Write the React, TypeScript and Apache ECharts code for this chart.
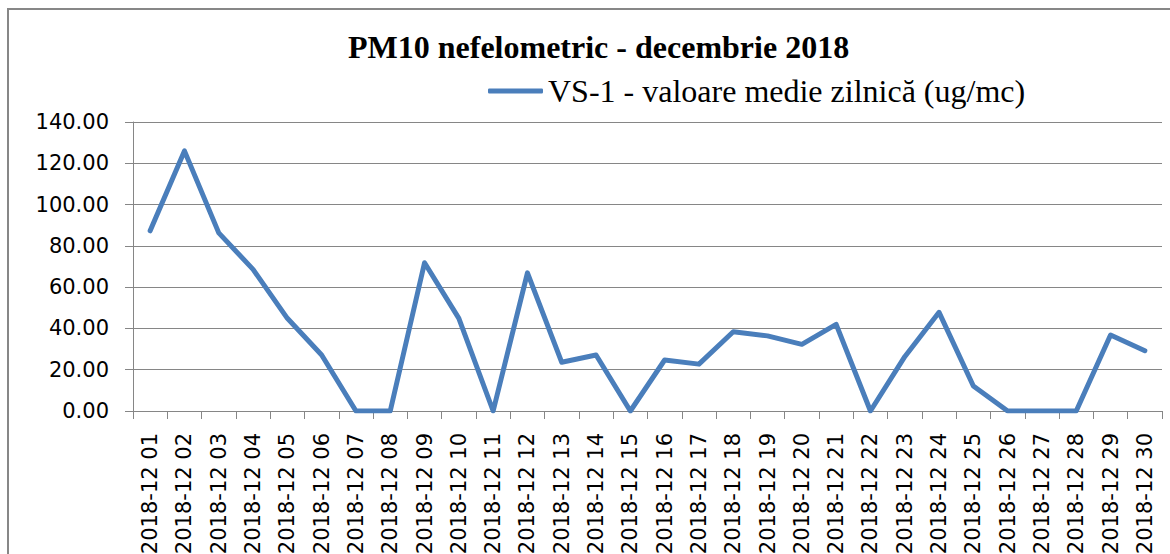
import React, { useEffect, useRef } from "react";
import * as echarts from "echarts";

const categories: string[] = [
  "2018-12 01", "2018-12 02", "2018-12 03", "2018-12 04", "2018-12 05",
  "2018-12 06", "2018-12 07", "2018-12 08", "2018-12 09", "2018-12 10",
  "2018-12 11", "2018-12 12", "2018-12 13", "2018-12 14", "2018-12 15",
  "2018-12 16", "2018-12 17", "2018-12 18", "2018-12 19", "2018-12 20",
  "2018-12 21", "2018-12 22", "2018-12 23", "2018-12 24", "2018-12 25",
  "2018-12 26", "2018-12 27", "2018-12 28", "2018-12 29", "2018-12 30",
];

const vs1Values: number[] = [
  87.3, 126.0, 86.3, 68.6, 44.9, 27.1, 0, 0, 71.8, 44.9,
  0, 66.9, 23.6, 27.1, 0, 24.7, 22.7, 38.4, 36.4, 32.3,
  42.0, 0, 26.3, 47.8, 12.1, 0, 0, 0, 36.8, 29.2,
];

const seriesName = "VS-1 - valoare medie zilnică (ug/mc)";
const chartTitle = "PM10 nefelometric - decembrie 2018";

export default function App() {
  const ref = useRef<HTMLDivElement>(null);

  useEffect(() => {
    if (!ref.current) return;
    const chart = echarts.init(ref.current, undefined, { renderer: "svg" });
    const gray = "#868686";
    chart.setOption({
      animation: false,
      backgroundColor: "#ffffff",
      title: {
        text: chartTitle,
        left: 348,
        top: 31,
        padding: 0,
        textStyle: {
          fontFamily: "Liberation Serif",
          fontWeight: "bold",
          fontSize: 32,
          color: "#000000",
        },
      },
      legend: {
        left: 488,
        top: 75,
        padding: 0,
        icon: "roundRect",
        itemWidth: 55,
        itemHeight: 5,
        textStyle: {
          fontFamily: "Liberation Serif",
          fontSize: 32,
          color: "#000000",
        },
        data: [seriesName],
      },
      graphic: [
        {
          type: "rect",
          shape: { x: 8, y: 9, width: 1200, height: 600 },
          style: { fill: "none", stroke: "#878787", lineWidth: 2 },
          silent: true,
        },
      ],
      grid: {
        left: 133,
        right: 8,
        top: 122,
        bottom: 143,
        containLabel: false,
        outerBoundsMode: "none",
      },
      xAxis: {
        type: "category",
        data: categories,
        boundaryGap: true,
        axisLine: { show: true, lineStyle: { color: gray, width: 1 } },
        axisTick: { show: true, length: 8, interval: 0, lineStyle: { color: gray } },
        axisLabel: {
          interval: 0,
          rotate: 90,
          margin: 22,
          fontFamily: "DejaVu Sans",
          fontSize: 21,
          color: "#000000",
        },
        splitLine: { show: false },
      },
      yAxis: {
        type: "value",
        min: 0,
        max: 140,
        interval: 20,
        axisLine: { show: true, lineStyle: { color: gray, width: 1 } },
        axisTick: { show: true, length: 8, lineStyle: { color: gray } },
        axisLabel: {
          margin: 24,
          fontFamily: "DejaVu Sans",
          fontSize: 21,
          color: "#000000",
          formatter: (v: number) => v.toFixed(2),
        },
        splitLine: { show: true, lineStyle: { color: gray, width: 1 } },
      },
      series: [
        {
          name: seriesName,
          type: "line",
          data: vs1Values,
          symbol: "none",
          color: "#4a7ebb",
          lineStyle: { color: "#4a7ebb", width: 5, cap: "round", join: "round" },
        },
      ],
    });
    return () => chart.dispose();
  }, []);

  return (
    <div
      ref={ref}
      style={{ position: "fixed", left: 0, top: 0, width: 1170, height: 554 }}
    />
  );
}
